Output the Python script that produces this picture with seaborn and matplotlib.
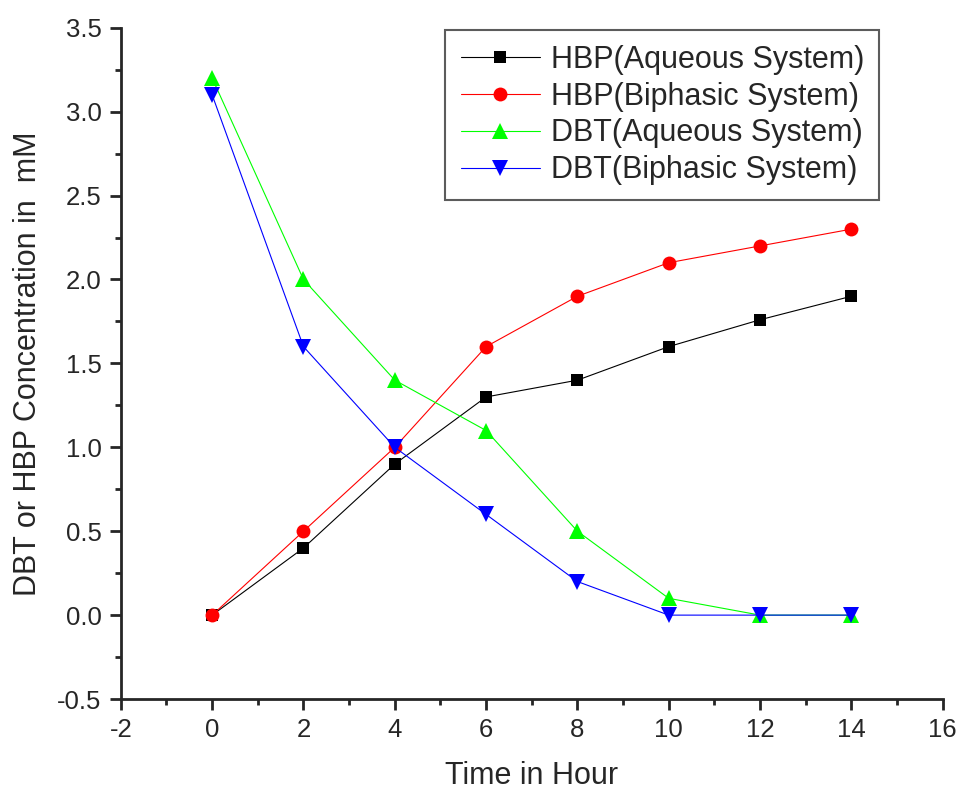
import numpy as np
import pandas as pd
import matplotlib
matplotlib.use("Agg")
import matplotlib.pyplot as plt
import seaborn as sns
from matplotlib.ticker import MultipleLocator

# data
hours = [0, 2, 4, 6, 8, 10, 12, 14]
hbp_aqueous = [0, 0.4, 0.9, 1.3, 1.4, 1.6, 1.76, 1.9]
hbp_biphasic = [0, 0.5, 1.0, 1.6, 1.9, 2.1, 2.2, 2.3]
dbt_aqueous = [3.2, 2.0, 1.4, 1.1, 0.5, 0.1, 0, 0]
dbt_biphasic = [3.1, 1.6, 1.0, 0.6, 0.2, 0, 0, 0]

series = {
    "HBP(Aqueous System)": hbp_aqueous,
    "HBP(Biphasic System)": hbp_biphasic,
    "DBT(Aqueous System)": dbt_aqueous,
    "DBT(Biphasic System)": dbt_biphasic,
}
df = pd.concat([pd.DataFrame({"Time": hours, "Conc": v, "Series": k})
                for k, v in series.items()], ignore_index=True)

colors = {"HBP(Aqueous System)": "black", "HBP(Biphasic System)": "red",
          "DBT(Aqueous System)": "#00ff00", "DBT(Biphasic System)": "blue"}
markers = {"HBP(Aqueous System)": "s", "HBP(Biphasic System)": "o",
           "DBT(Aqueous System)": "^", "DBT(Biphasic System)": "v"}
msize = {"HBP(Aqueous System)": 8.5, "HBP(Biphasic System)": 10,
         "DBT(Aqueous System)": 11, "DBT(Biphasic System)": 11}

sns.set_style("ticks")
plt.rcParams['font.family'] = ['Liberation Sans', 'DejaVu Sans']

fig = plt.figure(figsize=(9.59, 7.93), dpi=100)
ax = fig.add_axes([0.126, 0.1185, 0.857, 0.8465])

for name in series:
    sns.lineplot(data=df[df["Series"] == name], x="Time", y="Conc", ax=ax,
                 color=colors[name], marker=markers[name], markersize=msize[name],
                 markeredgewidth=0, linewidth=0.8, label=name)

ax.set_xlim(-2, 16)
ax.set_ylim(-0.5, 3.5)
ax.xaxis.set_minor_locator(MultipleLocator(1))
ax.yaxis.set_minor_locator(MultipleLocator(0.25))
ax.set_xticks(np.arange(-2, 17, 2))
ax.set_xticklabels([str(int(t)) for t in np.arange(-2, 17, 2)])
ax.set_yticks(np.arange(-0.5, 3.6, 0.5))
ax.set_yticklabels(["%.1f" % t for t in np.arange(-0.5, 3.6, 0.5)])

sns.despine(ax=ax)
for sp in ["left", "bottom"]:
    ax.spines[sp].set_linewidth(2)
ax.tick_params(which="major", direction="out", length=8, width=2, labelsize=18.5, pad=6)
ax.tick_params(which="minor", direction="out", length=4, width=2)

ax.set_xlabel("Time in Hour", fontsize=22, labelpad=13)
ax.set_ylabel("DBT or HBP Concentration in  mM", fontsize=22, labelpad=10)

leg = ax.legend(loc="upper right", bbox_to_anchor=(0.923, 0.997), borderaxespad=0,
                fontsize=22, frameon=True, fancybox=False, edgecolor="#333333",
                handlelength=2.6, handletextpad=0.35, borderpad=0.5,
                labelspacing=0.22)
leg.get_frame().set_linewidth(1.5)

fig.savefig("out.png", dpi=100)
